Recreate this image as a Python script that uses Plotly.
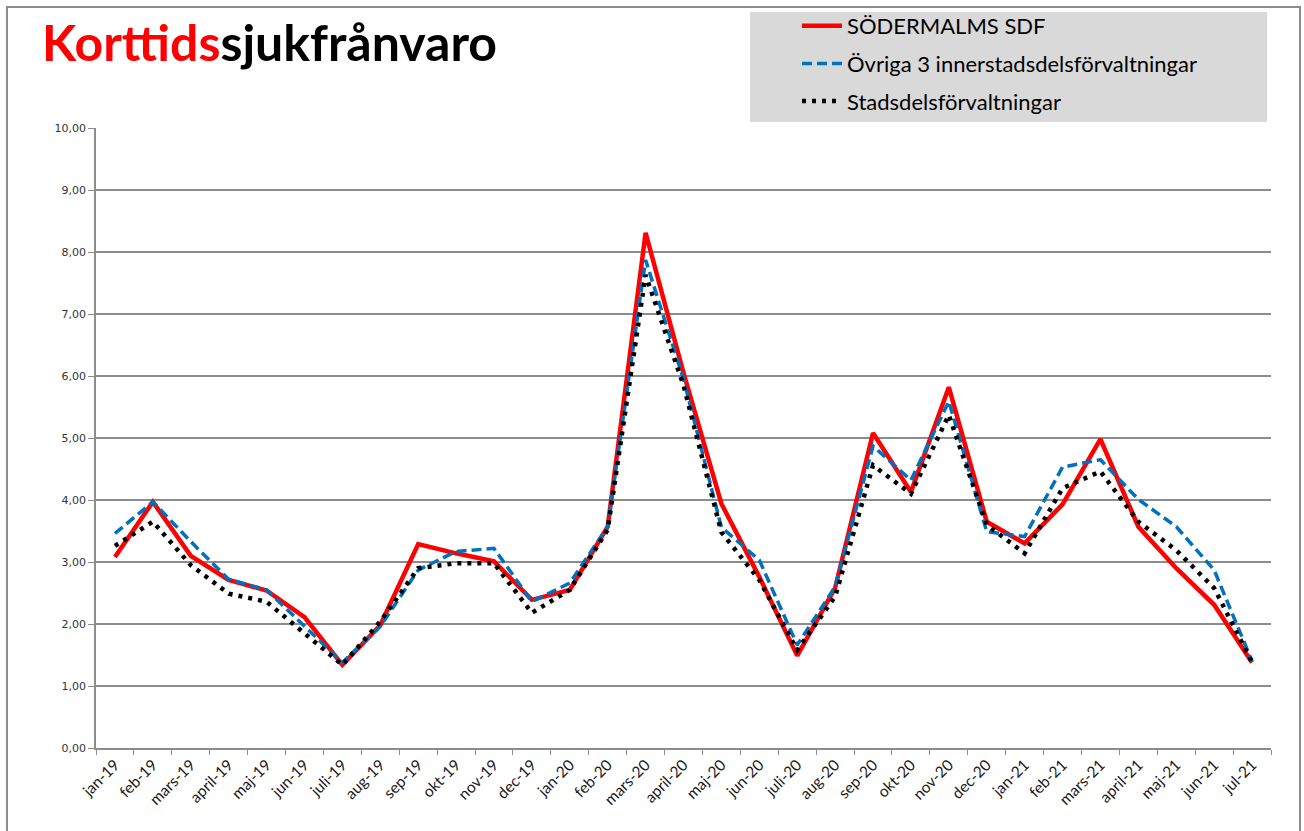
import plotly.graph_objects as go

months = ["jan-19", "feb-19", "mars-19", "april-19", "maj-19", "jun-19", "juli-19", "aug-19",
          "sep-19", "okt-19", "nov-19", "dec-19", "jan-20", "feb-20", "mars-20", "april-20",
          "maj-20", "jun-20", "juli-20", "aug-20", "sep-20", "okt-20", "nov-20", "dec-20",
          "jan-21", "feb-21", "mars-21", "april-21", "maj-21", "jun-21", "jul-21"]

sodermalm = [3.08, 3.97, 3.10, 2.71, 2.54, 2.11, 1.34, 1.98, 3.29, 3.14, 3.01, 2.39, 2.55, 3.57,
             8.31, 6.05, 3.94, 2.76, 1.49, 2.58, 5.08, 4.13, 5.82, 3.65, 3.30, 3.93, 4.98, 3.57,
             2.90, 2.31, 1.38]
ovriga = [3.46, 3.97, 3.33, 2.72, 2.55, 1.96, 1.38, 1.96, 2.87, 3.17, 3.22, 2.36, 2.66, 3.57,
          7.87, 5.95, 3.56, 3.03, 1.66, 2.60, 4.87, 4.32, 5.59, 3.49, 3.41, 4.53, 4.65, 4.01,
          3.57, 2.87, 1.40]
stadsdel = [3.26, 3.65, 2.95, 2.49, 2.36, 1.85, 1.34, 2.04, 2.90, 2.98, 2.98, 2.18, 2.55, 3.52,
            7.63, 5.85, 3.48, 2.71, 1.58, 2.44, 4.56, 4.10, 5.37, 3.60, 3.14, 4.19, 4.46, 3.65,
            3.19, 2.58, 1.38]

y_ticks = [0, 1, 2, 3, 4, 5, 6, 7, 8, 9, 10]
y_labels = ["0,00", "1,00", "2,00", "3,00", "4,00", "5,00", "6,00", "7,00", "8,00", "9,00", "10,00"]

series_names = ["SÖDERMALMS SDF", "Övriga 3 innerstadsdelsförvaltningar", "Stadsdelsförvaltningar"]

W, H = 1304, 831
L, R, T, B = 96, 1271, 128, 748


def px(xp):
    return (xp - L) / (R - L)


def py(yp):
    return (B - yp) / (B - T)


fig = go.Figure()
fig.add_trace(go.Scatter(x=months, y=sodermalm, name=series_names[0], mode="lines",
                         legendgroup="a",
                         line=dict(color="#ff0000", width=4.5)))
fig.add_trace(go.Scatter(x=months, y=ovriga, name=series_names[1], mode="lines",
                         legendgroup="b",
                         line=dict(color="#0070c0", width=3.5, dash="10px,5px")))
fig.add_trace(go.Scatter(x=months, y=stadsdel, name=series_names[2], mode="lines",
                         legendgroup="c",
                         line=dict(color="#000000", width=4.5, dash="4px,6px")))

shapes = [
    # outer frame
    dict(type="rect", xref="paper", yref="paper", x0=px(7), x1=px(1300), y0=py(840), y1=py(7),
         line=dict(color="#8c8c8c", width=2), fillcolor="rgba(0,0,0,0)", layer="below"),
    # legend background
    dict(type="rect", xref="paper", yref="paper", x0=px(750), x1=px(1267), y0=py(122), y1=py(12),
         line=dict(width=0), fillcolor="#d9d9d9", layer="below"),
]

fig.update_layout(
    width=W, height=H,
    margin=dict(l=L, r=W - R, t=T, b=H - B, pad=0, autoexpand=False),
    paper_bgcolor="white", plot_bgcolor="white",
    font=dict(family="Lato, Carlito, Calibri, sans-serif", color="#000000"),
    showlegend=True,
    legend=dict(xref="container", yref="container", x=797 / W, y=1 - 5 / H,
                xanchor="left", yanchor="top",
                bgcolor="rgba(0,0,0,0)", font=dict(size=22, color="#000000"),
                tracegroupgap=6, itemwidth=40, traceorder="grouped"),
    shapes=shapes,
    annotations=[
        dict(text="<b><span style='color:#ff0000'>Korttids</span>sjukfrånvaro</b>",
             xref="paper", yref="paper", x=px(40), y=py(42), xanchor="left", yanchor="middle",
             showarrow=False, font=dict(size=50, color="#000000",
                                        family="Lato, Carlito, Calibri, sans-serif")),
    ],
    xaxis=dict(type="category", range=[-0.5, len(months) - 0.5], tickson="boundaries",
               tickangle=-45, ticks="outside", ticklen=5, tickcolor="#8c8c8c",
               showgrid=False, showline=True, linecolor="#8c8c8c", linewidth=1.5,
               tickfont=dict(size=15.5, color="#1a1a1a")),
    yaxis=dict(range=[0, 10], tickvals=y_ticks, ticktext=y_labels, ticks="outside", ticklen=6,
               tickcolor="#8c8c8c", showgrid=True, gridcolor="#8c8c8c", gridwidth=1.5,
               showline=True, linecolor="#8c8c8c", linewidth=1.5, zeroline=False,
               tickfont=dict(size=11, color="#333333", family="DejaVu Sans, Verdana, sans-serif")),
)

fig.write_html("out.html", config={"displayModeBar": False},
               post_script="document.body.style.margin='0';")
